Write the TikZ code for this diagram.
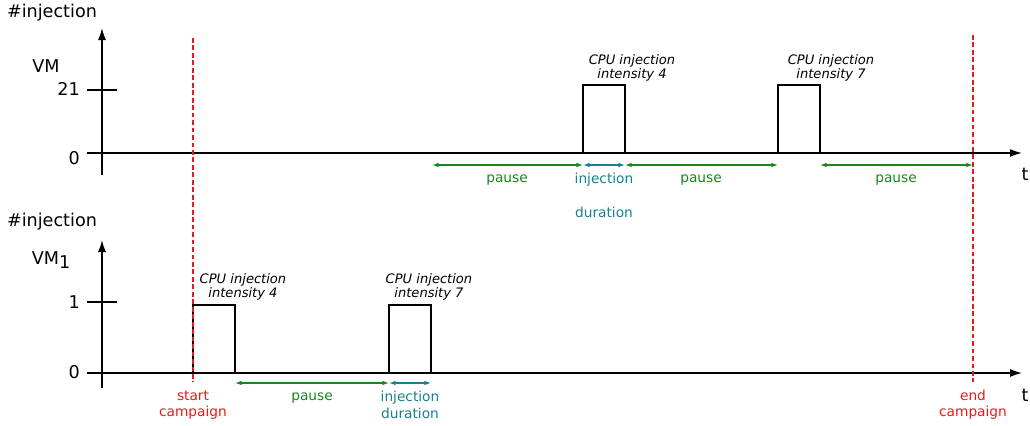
\documentclass[tikz,border=0pt]{standalone}
\usepackage{fontspec}
\setmainfont{DejaVu Sans}
\usetikzlibrary{arrows.meta}

\definecolor{campred}{RGB}{235,25,25}
\definecolor{pausegreen}{RGB}{25,135,25}
\definecolor{injteal}{RGB}{25,130,140}

\tikzset{
  axisline/.style={line width=1.1pt, -{Latex[length=9pt,width=6pt]}},
  signal/.style={line width=2pt},
  pulse/.style={line width=1.1pt},
  campaign/.style={campred, line width=1.1pt, dash pattern=on 3.6pt off 2pt},
  pauselen/.style={pausegreen, line width=0.9pt, {Latex[length=5pt,width=3.5pt]}-{Latex[length=5pt,width=3.5pt]}},
  injlen/.style={injteal, line width=0.9pt, {Latex[length=5pt,width=3.5pt]}-{Latex[length=5pt,width=3.5pt]}},
  biglabel/.style={font=\fontsize{13.2}{15}\selectfont, inner sep=0pt},
  cpulabel/.style={font=\fontsize{9.8}{10.6}\selectfont\itshape, align=center, inner sep=0pt},
  lenlabel/.style={font=\fontsize{10.3}{12}\selectfont, inner sep=0pt},
}

\begin{document}
\begin{tikzpicture}[x=0.75pt, y=-0.75pt]
\useasboundingbox (0,0) rectangle (1030,425);

% upper VM
\node[biglabel] (yname1) at (52,13) {\#injection};
\node[biglabel] (vm) at (46,66) {VM};
\node[biglabel, anchor=east] (top1) at (80,89) {21};
\node[biglabel, anchor=east] (zero1) at (80,158) {0};
\node[biglabel] (t1) at (1025,174) {t};
\draw[axisline] (102,175) -- (102,28);
\draw[axisline] (87,153) -- (1022,153);
\draw[pulse] (87,90) -- (117,90);
\draw[signal] (102,153) -- (973,153);
\draw[pulse] (583,153) -- (583,85) -- (625,85) -- (625,153);
\draw[pulse] (778,153) -- (778,85) -- (820,85) -- (820,153);
\node[cpulabel] (cpu1) at (632,68) {CPU injection\\intensity 4};
\node[cpulabel] (cpu2) at (831,68) {CPU injection\\intensity 7};

\coordinate (u0) at (432,165);
\coordinate (u1) at (583,165);
\coordinate (u2) at (625,165);
\coordinate (u3) at (778,165);
\coordinate (u4) at (820,165);
\coordinate (u5) at (973,165);
\draw[pauselen] (u0) -- (u1);
\draw[injlen] (u1) -- (u2);
\draw[pauselen] (u2) -- (u3);
\draw[pauselen] (u4) -- (u5);
\node[lenlabel, pausegreen] (pu1) at (507,180) {pause};
\node[lenlabel, injteal] (iu1) at (604,180) {injection};
\node[lenlabel, injteal] (du1) at (604,212) {duration};
\node[lenlabel, pausegreen] (pu2) at (701,180) {pause};
\node[lenlabel, pausegreen] (pu3) at (896,180) {pause};

% lower VM_1
\node[biglabel] (yname2) at (52,222) {\#injection};
\node[biglabel] (vm1) at (51,260) {VM\raisebox{-0.35ex}{1}};
\node[biglabel, anchor=east] (top2) at (80,302) {1};
\node[biglabel, anchor=east] (zero2) at (80,372) {0};
\node[biglabel] (t2) at (1025,395) {t};
\draw[axisline] (102,388) -- (102,240);
\draw[axisline] (87,373) -- (1022,373);
\draw[pulse] (87,302) -- (117,302);
\draw[signal] (102,373) -- (973,373);
\draw[pulse] (193,373) -- (193,305) -- (235,305) -- (235,373);
\draw[pulse] (389,373) -- (389,305) -- (431,305) -- (431,373);
\node[cpulabel] (cpu3) at (243,287) {CPU injection\\intensity 4};
\node[cpulabel] (cpu4) at (429,287) {CPU injection\\intensity 7};

\coordinate (l0) at (235,383);
\coordinate (l1) at (389,383);
\coordinate (l2) at (431,383);
\draw[pauselen] (l0) -- (l1);
\draw[injlen] (l1) -- (l2);
\node[lenlabel, pausegreen] (pl1) at (312,398) {pause};
\node[lenlabel, injteal] (il1) at (410,398) {injection};
\node[lenlabel, injteal] (dl1) at (410,413) {duration};

% campaign
\draw[campaign] (193,38) -- (193,382);
\draw[campaign] (973,35) -- (973,382);
\node[lenlabel, campred, align=center] (start) at (193,405) {start\\campaign};
\node[lenlabel, campred, align=center] (end) at (973,405) {end\\campaign};
\end{tikzpicture}
\end{document}
